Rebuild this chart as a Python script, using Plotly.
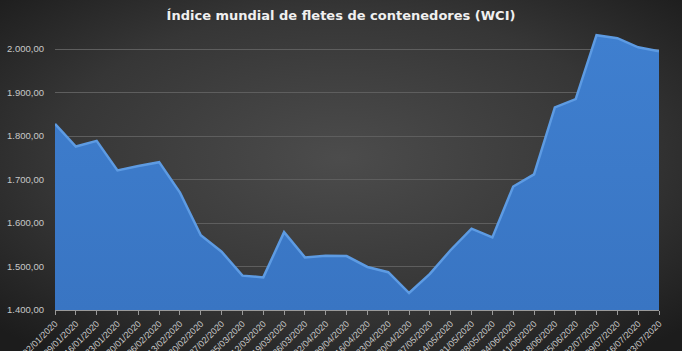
import base64
import plotly.graph_objects as go

dates = ["02/01/2020", "09/01/2020", "16/01/2020", "23/01/2020", "30/01/2020",
         "06/02/2020", "13/02/2020", "20/02/2020", "27/02/2020", "05/03/2020",
         "12/03/2020", "19/03/2020", "26/03/2020", "02/04/2020", "09/04/2020",
         "16/04/2020", "23/04/2020", "30/04/2020", "07/05/2020", "14/05/2020",
         "21/05/2020", "28/05/2020", "04/06/2020", "11/06/2020", "18/06/2020",
         "25/06/2020", "02/07/2020", "09/07/2020", "16/07/2020", "23/07/2020"]
wci = [1828, 1776, 1789, 1721, 1731, 1740, 1670, 1572, 1534, 1479,
       1475, 1579, 1521, 1525, 1524, 1499, 1487, 1439, 1483, 1538,
       1587, 1567, 1684, 1712, 1866, 1885, 2032, 2025, 2004, 1995]
y_ticks = [1400, 1500, 1600, 1700, 1800, 1900, 2000]

W, H = 682, 351
ML, MR, MT, MB = 55, 23, 23, 41

svg = f'''<svg xmlns="http://www.w3.org/2000/svg" width="{W}" height="{H}">
<defs><radialGradient id="g" cx="50%" cy="45%" r="70%">
<stop offset="0%" stop-color="#4c4c4c"/><stop offset="60%" stop-color="#363636"/>
<stop offset="100%" stop-color="#1c1c1c"/></radialGradient></defs>
<rect width="{W}" height="{H}" fill="url(#g)"/></svg>'''
src = "data:image/svg+xml;base64," + base64.b64encode(svg.encode()).decode()

pw, ph = W - ML - MR, H - MT - MB

fig = go.Figure()
fig.add_trace(go.Scatter(
    x=list(range(len(dates))), y=wci, mode="lines",
    line=dict(color="#5d9be3", width=2.5),
    fill="tozeroy",
    fillgradient=dict(type="vertical",
                      colorscale=[[0, "#2c5fa8"], [1, "#3f7fcf"]]),
    hoverinfo="skip",
))

fig.update_layout(
    width=W, height=H,
    margin=dict(l=ML, r=MR, t=MT, b=MB, autoexpand=False),
    paper_bgcolor="#2c2c2c",
    plot_bgcolor="rgba(0,0,0,0)",
    separators=",.",
    showlegend=False,
    title=dict(text="<b>Índice mundial de fletes de contenedores (WCI)</b>",
               x=0.5, xref="container", xanchor="center",
               y=1 - 15 / H, yanchor="middle",
               font=dict(family="DejaVu Sans", size=13, color="#f0f0f0")),
    images=[dict(source=src, xref="paper", yref="paper",
                 x=-ML / pw, y=1 + MT / ph, sizex=W / pw, sizey=H / ph,
                 xanchor="left", yanchor="top", sizing="stretch",
                 layer="below")],
    xaxis=dict(range=[0, len(dates) - 1], tickmode="array",
               tickvals=list(range(len(dates))), ticktext=dates,
               tickangle=-45, ticks="outside", ticklen=4, tickcolor="#9a9a9a",
               showline=True, linecolor="#9a9a9a", linewidth=1,
               showgrid=False, zeroline=False, automargin=False,
               tickfont=dict(family="Liberation Sans", size=9, color="#c8c8c8")),
    yaxis=dict(range=[1400, 2060], tickmode="array", tickvals=y_ticks,
               tickformat=",.2f", showgrid=True, gridcolor="#5e5e5e",
               gridwidth=1, zeroline=False, showline=False, automargin=False,
               ticks="", ticklabelstandoff=10,
               tickfont=dict(family="Liberation Sans", size=9.5, color="#c8c8c8")),
)

fig.write_html("out.html")
